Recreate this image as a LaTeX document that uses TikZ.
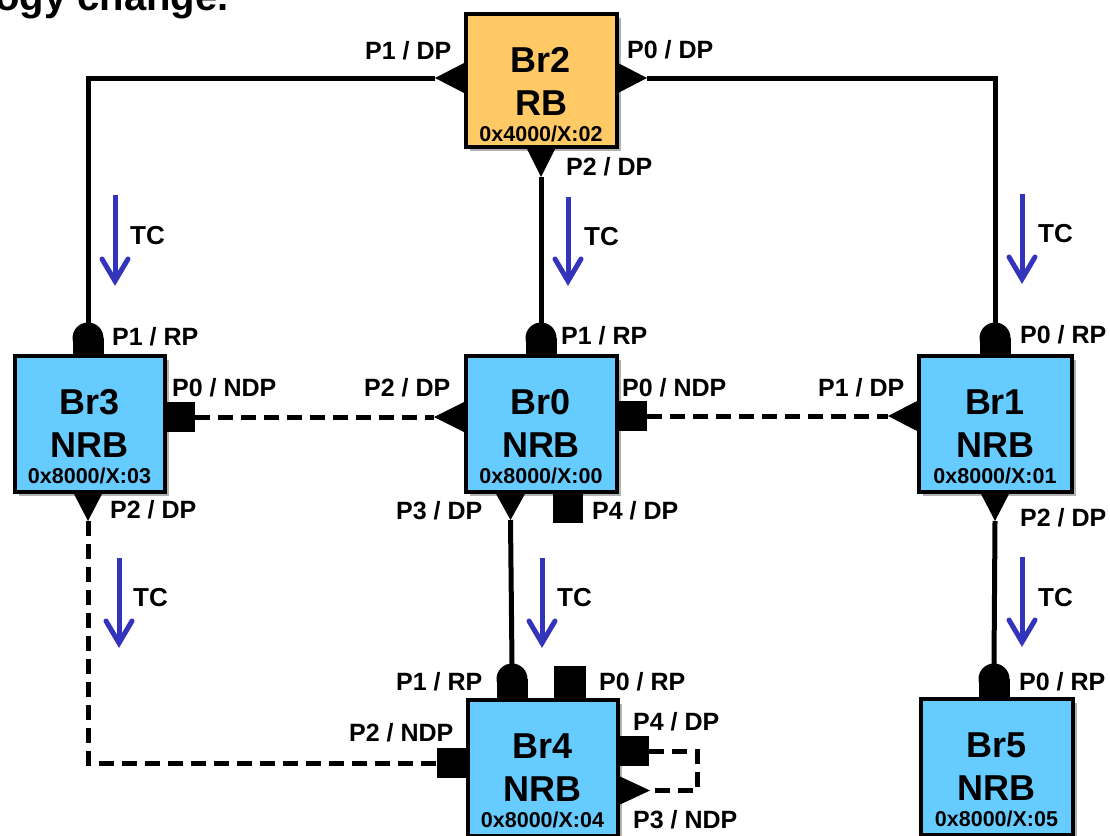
\documentclass[tikz,border=0pt]{standalone}
\usepackage{fontspec}
\setmainfont{Liberation Sans}
\usetikzlibrary{shadows}
\definecolor{rbfill}{HTML}{FFC966}
\definecolor{nrbfill}{HTML}{66CCFF}
\definecolor{tcblue}{HTML}{3333BB}
\tikzset{
  bridge/.style={draw=black, line width=4pt, rectangle, inner sep=0pt,
    drop shadow={shadow xshift=4pt, shadow yshift=-4pt, opacity=0.3, fill=black}},
  bigtxt/.style={font=\fontsize{36}{38}\selectfont\bfseries, inner sep=0pt},
  smalltxt/.style={font=\fontsize{21.5}{23}\selectfont\bfseries, inner sep=0pt},
  plabel/.style={font=\fontsize{25}{27}\selectfont\bfseries, inner sep=0pt, anchor=west},
  tclabel/.style={font=\fontsize{26}{28}\selectfont\bfseries, inner sep=0pt, anchor=west},
  conn/.style={line width=5pt},
  dconn/.style={line width=5pt, dash pattern=on 15pt off 8pt},
  portfill/.style={fill=black, draw=none},
  tcarrow/.style={draw=tcblue, line width=5pt},
}
\begin{document}
\begin{tikzpicture}[x=1pt,y=-1pt]
\clip (0,0) rectangle (1110,835);
\fill[white] (0,0) rectangle (1110,835);

% title fragment
\node[anchor=base west, inner sep=0pt, font=\fontsize{40}{44}\selectfont\bfseries] (title) at (-5,10) {ogy change.};

% port coordinates
\coordinate (b2p1) at (435,78);
\coordinate (b2p0) at (647,78);
\coordinate (b2p2) at (541,177);
\coordinate (b3p1) at (88,323);
\coordinate (b3p0) at (195,417);
\coordinate (b3p2) at (88,521);
\coordinate (b0p1) at (541,323);
\coordinate (b0p2) at (434,417);
\coordinate (b0p0) at (647,416);
\coordinate (b0p3) at (510.5,520);
\coordinate (b1p0) at (995,323);
\coordinate (b1p1) at (888,416);
\coordinate (b1p2) at (995,521);
\coordinate (b4p1) at (512,664);
\coordinate (b4p2) at (437,763);
\coordinate (b4p4) at (649,751);
\coordinate (b4p3) at (650,790.5);
\coordinate (b5p0) at (994,664);
\coordinate (loopA) at (697,751);
\coordinate (loopB) at (697,790.5);

% connectors
\draw[conn] (b2p1) -| (b3p1);
\draw[conn] (b2p0) -| (b1p0);
\draw[conn] (b2p2) -- (b0p1);
\draw[dconn] (b3p0) -- (b0p2);
\draw[dconn] (b0p0) -- (b1p1);
\draw[dconn] (b3p2) |- (b4p2);
\draw[conn] (b0p3) -- (b4p1);
\draw[conn] (b1p2) -- (b5p0);
\draw[dconn] (b4p4) -- (loopA) -- (loopB) -- (b4p3);

% bridges
\node[bridge, fill=rbfill, minimum width=151pt, minimum height=133pt] (br2) at (541,80) {};
\node[bridge, fill=nrbfill, minimum width=150pt, minimum height=136pt] (br3) at (89.5,423.5) {};
\node[bridge, fill=nrbfill, minimum width=151pt, minimum height=136pt] (br0) at (541,423.5) {};
\node[bridge, fill=nrbfill, minimum width=153pt, minimum height=136pt] (br1) at (995,423.5) {};
\node[bridge, fill=nrbfill, minimum width=150pt, minimum height=136pt] (br4) at (542.5,767.5) {};
\node[bridge, fill=nrbfill, minimum width=152pt, minimum height=136pt] (br5) at (996.5,766.5) {};

% ports: Br2
\fill[portfill] (464,63) -- (b2p1) -- (464,93) -- cycle;
\fill[portfill] (618,63) -- (b2p0) -- (618,93) -- cycle;
\fill[portfill] (526,147) -- (b2p2) -- (556,147) -- cycle;
% Br3
\fill[portfill] (72.5,354) rectangle (103.5,338);
\fill[portfill] (88,338) circle[radius=15.5];
\fill[portfill] (166,402) rectangle (195,432);
\fill[portfill] (73,492) -- (b3p2) -- (103,492) -- cycle;
% Br0
\fill[portfill] (525.5,354) rectangle (556.5,338);
\fill[portfill] (541,338) circle[radius=15.5];
\fill[portfill] (464,402) -- (b0p2) -- (464,432) -- cycle;
\fill[portfill] (618,401) rectangle (647,431);
\fill[portfill] (495,492) -- (b0p3) -- (526,492) -- cycle;
\fill[portfill] (553,493) rectangle (583,523);
% Br1
\fill[portfill] (979.5,354) rectangle (1010.5,338);
\fill[portfill] (995,338) circle[radius=15.5];
\fill[portfill] (917,401) -- (b1p1) -- (917,431) -- cycle;
\fill[portfill] (980,492) -- (b1p2) -- (1010,492) -- cycle;
% Br4
\fill[portfill] (496.5,698) rectangle (527.5,679);
\fill[portfill] (512,679) circle[radius=15.5];
\fill[portfill] (554,666) rectangle (586,698);
\fill[portfill] (437,748) rectangle (466,778);
\fill[portfill] (619,736) rectangle (649,766);
\fill[portfill] (619,776) -- (b4p3) -- (619,805) -- cycle;
% Br5
\fill[portfill] (978.5,697) rectangle (1009.5,679);
\fill[portfill] (994,679) circle[radius=15.5];

% bridge texts
\node[bigtxt] (br2n) at (541,60) {Br2};
\node[bigtxt] (br2t) at (541,103) {RB};
\node[smalltxt] (br2i) at (541,134) {0x4000/X:02};
\node[bigtxt] (br3n) at (89.5,402) {Br3};
\node[bigtxt] (br3t) at (89.5,445) {NRB};
\node[smalltxt] (br3i) at (89.5,476) {0x8000/X:03};
\node[bigtxt] (br0n) at (541,402) {Br0};
\node[bigtxt] (br0t) at (541,445) {NRB};
\node[smalltxt] (br0i) at (541,476) {0x8000/X:00};
\node[bigtxt] (br1n) at (995,402) {Br1};
\node[bigtxt] (br1t) at (995,445) {NRB};
\node[smalltxt] (br1i) at (995,476) {0x8000/X:01};
\node[bigtxt] (br4n) at (542.5,746) {Br4};
\node[bigtxt] (br4t) at (542.5,789) {NRB};
\node[smalltxt] (br4i) at (542.5,820) {0x8000/X:04};
\node[bigtxt] (br5n) at (996.5,745) {Br5};
\node[bigtxt] (br5t) at (996.5,788) {NRB};
\node[smalltxt] (br5i) at (996.5,819) {0x8000/X:05};

% port labels
\node[plabel] (l1) at (365,51) {P1 / DP};
\node[plabel] (l2) at (627,50) {P0 / DP};
\node[plabel] (l3) at (566,167) {P2 / DP};
\node[plabel] (l4) at (112,337) {P1 / RP};
\node[plabel] (l5) at (172,388) {P0 / NDP};
\node[plabel] (l6) at (110,510) {P2 / DP};
\node[plabel] (l7) at (364,388) {P2 / DP};
\node[plabel] (l8) at (561,336) {P1 / RP};
\node[plabel] (l9) at (622,388) {P0 / NDP};
\node[plabel] (l10) at (396,511) {P3 / DP};
\node[plabel] (l11) at (592,511) {P4 / DP};
\node[plabel] (l12) at (818,388) {P1 / DP};
\node[plabel] (l13) at (1020,335) {P0 / RP};
\node[plabel] (l14) at (1020,518) {P2 / DP};
\node[plabel] (l15) at (396,682) {P1 / RP};
\node[plabel] (l16) at (599,682) {P0 / RP};
\node[plabel] (l17) at (349,733) {P2 / NDP};
\node[plabel] (l18) at (633,722) {P4 / DP};
\node[plabel] (l19) at (633,820) {P3 / NDP};
\node[plabel] (l20) at (1019,682) {P0 / RP};

% TC arrows
\foreach \x/\a/\b in {115/195/285, 568/197/285, 1022/194/283, 119/558/647, 542/558/647, 1022/557/646}{
  \draw[tcarrow] (\x,\a) -- (\x,\b-5);
  \draw[tcarrow, line join=miter, line cap=round] (\x-13,\b-26) -- (\x,\b-4) -- (\x+13,\b-26);
}
\node[tclabel] (tc1) at (130,236) {TC};
\node[tclabel] (tc2) at (584,237) {TC};
\node[tclabel] (tc3) at (1038,234) {TC};
\node[tclabel] (tc4) at (133,598) {TC};
\node[tclabel] (tc5) at (557,598) {TC};
\node[tclabel] (tc6) at (1038,598) {TC};
\end{tikzpicture}
\end{document}
